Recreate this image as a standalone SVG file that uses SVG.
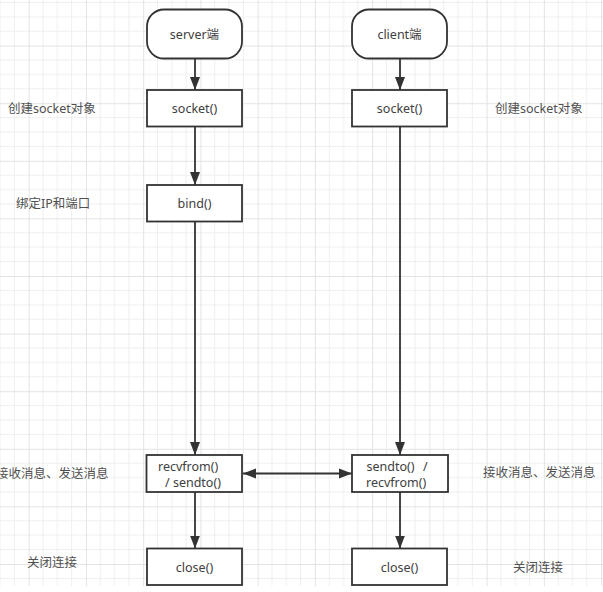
<svg xmlns="http://www.w3.org/2000/svg" width="603" height="592" viewBox="0 0 603 592">
<style>
text{font-family:"Noto Sans","Noto Sans CJK SC",sans-serif;font-size:12.5px;fill:#404040;dominant-baseline:central}
.lbl{fill:#505050}
.box{fill:#fff;stroke:#333;stroke-width:1.8}
.edge{stroke:#333;stroke-width:1.8;fill:none}
</style>
<defs>
<pattern id="grid" patternUnits="userSpaceOnUse" x="28.7" y="45.6" width="57.24" height="57.6">
<path d="M14.31 0V57.6M28.62 0V57.6M42.93 0V57.6M0 14.4H57.24M0 28.8H57.24M0 43.2H57.24" stroke="#efefef" stroke-width="1" fill="none"/>
<path d="M0.5 0V57.6M0 0.5H57.24" stroke="#e3e3e3" stroke-width="1" fill="none"/>
</pattern>
<marker id="arr" markerUnits="userSpaceOnUse" markerWidth="14" markerHeight="12" refX="13" refY="6" orient="auto">
<path d="M0 1L13 6L0 11Z" fill="#333"/>
</marker>
<marker id="arrs" markerUnits="userSpaceOnUse" markerWidth="14" markerHeight="12" refX="1" refY="6" orient="auto">
<path d="M14 1L1 6L14 11Z" fill="#333"/>
</marker>
</defs>
<rect width="603" height="592" fill="#fff"/>
<rect width="603" height="586" fill="url(#grid)"/>

<g id="labels">
<text class="lbl" x="8" y="108">创建socket对象</text>
<text class="lbl" x="16" y="203">绑定IP和端口</text>
<text class="lbl" x="-4" y="473">接收消息、发送消息</text>
<text class="lbl" x="27" y="562">关闭连接</text>
<text class="lbl" x="495" y="108">创建socket对象</text>
<text class="lbl" x="483" y="472">接收消息、发送消息</text>
<text class="lbl" x="513" y="567">关闭连接</text>
</g>

<g id="connectors">
<line class="edge" x1="195" y1="58.5" x2="195" y2="90" marker-end="url(#arr)"/>
<line class="edge" x1="195" y1="126.5" x2="195" y2="185" marker-end="url(#arr)"/>
<line class="edge" x1="195" y1="221.5" x2="195" y2="455" marker-end="url(#arr)"/>
<line class="edge" x1="195" y1="492" x2="195" y2="548.5" marker-end="url(#arr)"/>
<line class="edge" x1="400" y1="58.5" x2="400" y2="90" marker-end="url(#arr)"/>
<line class="edge" x1="400" y1="126.5" x2="400" y2="455" marker-end="url(#arr)"/>
<line class="edge" x1="400" y1="492" x2="400" y2="548.5" marker-end="url(#arr)"/>
<line class="edge" x1="243" y1="473.5" x2="352" y2="473.5" marker-start="url(#arrs)" marker-end="url(#arr)"/>
</g>

<g id="server-start">
<rect class="box" x="147" y="9.5" width="95" height="49" rx="17"/>
<text x="194.5" y="34" text-anchor="middle">server端</text>
</g>
<g id="client-start">
<rect class="box" x="352" y="9.5" width="95" height="49" rx="17"/>
<text x="399.5" y="34" text-anchor="middle">client端</text>
</g>
<g id="server-socket">
<rect class="box" x="147" y="90" width="95" height="36.5"/>
<text x="194.5" y="108" text-anchor="middle">socket()</text>
</g>
<g id="client-socket">
<rect class="box" x="352" y="90" width="95" height="36.5"/>
<text x="399.5" y="108" text-anchor="middle">socket()</text>
</g>
<g id="server-bind">
<rect class="box" x="147" y="185" width="95" height="36.5"/>
<text x="194.5" y="203" text-anchor="middle">bind()</text>
</g>
<g id="server-recv">
<rect class="box" x="146.5" y="455" width="95.5" height="37"/>
<text x="158" y="466">recvfrom()</text>
<text x="165" y="482">/ sendto()</text>
</g>
<g id="client-send">
<rect class="box" x="352" y="455" width="96" height="37"/>
<text x="366.5" y="466">sendto()</text>
<text x="423" y="466">/</text>
<text x="366" y="482">recvfrom()</text>
</g>
<g id="server-close">
<rect class="box" x="147" y="548.5" width="95" height="36.5"/>
<text x="194.5" y="567" text-anchor="middle">close()</text>
</g>
<g id="client-close">
<rect class="box" x="352" y="548.5" width="95" height="36.5"/>
<text x="399.5" y="567" text-anchor="middle">close()</text>
</g>
</svg>
